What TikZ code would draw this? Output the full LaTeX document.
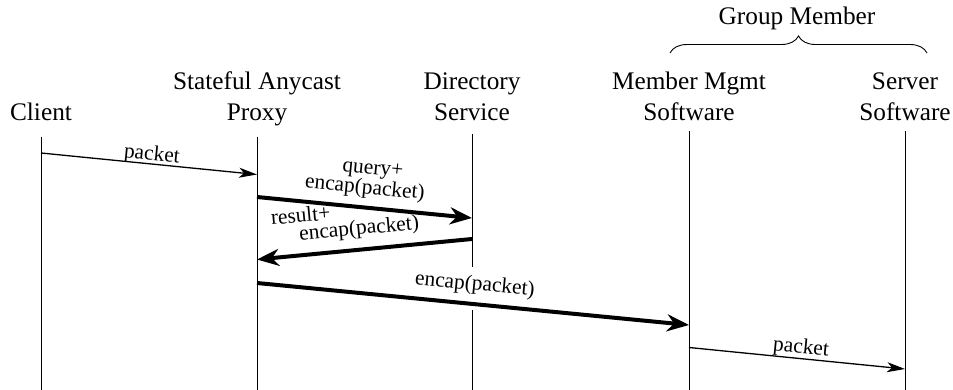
\documentclass[tikz,border=0pt]{standalone}
\usepackage{fontspec}
\setmainfont{Liberation Serif}
\usetikzlibrary{arrows.meta,decorations.pathreplacing}
\begin{document}
\begin{tikzpicture}[x=1pt,y=-1pt,
  hdr/.style={font=\fontsize{25.3}{31.5}\selectfont, align=center, inner sep=0pt, anchor=base},
  lbl/.style={font=\fontsize{21.4}{24}\selectfont, sloped, anchor=base, inner sep=0pt},
  life/.style={line width=0.9pt},
  msg/.style={line width=1.3pt, -{Stealth[length=18pt,width=10pt,inset=5pt]}},
  bigmsg/.style={line width=4pt, -{Stealth[length=22pt,width=17pt,inset=7pt]}},
  bracestyle/.style={line width=0.9pt, decorate, decoration={brace, amplitude=17pt}}]
\useasboundingbox (0,0) rectangle (953,390);

% headers (base = baseline of the last line)
\node[hdr] (client) at (41,121) {Client};
\node[hdr] (proxy) at (257,121) {Stateful Anycast\\Proxy};
\node[hdr] (dir) at (472,121) {Directory\\Service};
\node[hdr] (mgmt) at (689,121) {Member Mgmt\\Software};
\node[hdr] (server) at (905,121) {Server\\Software};
\node[hdr] (grp) at (797,25) {Group Member};

% brace
\coordinate (bl) at (670,53);
\coordinate (br) at (927,53);
\draw[bracestyle] (bl) -- (br);

% lifelines
\coordinate (clientT) at (41,137);   \coordinate (clientB) at (41,390);
\coordinate (proxyT) at (257,137);   \coordinate (proxyB) at (257,390);
\coordinate (dirT) at (472,134);     \coordinate (dirB) at (472,390);
\coordinate (dirG1) at (472,267);    \coordinate (dirG2) at (472,310);
\coordinate (mgmtT) at (689,131);    \coordinate (mgmtB) at (689,390);
\coordinate (serverT) at (905,131);  \coordinate (serverB) at (905,390);
\draw[life] (clientT) -- (clientB);
\draw[life] (proxyT) -- (proxyB);
\draw[life] (dirT) -- (dirG1);
\draw[life] (dirG2) -- (dirB);
\draw[life] (mgmtT) -- (mgmtB);
\draw[life] (serverT) -- (serverB);

% message end points
\coordinate (m1s) at (41,153);   \coordinate (m1e) at (257,174.5);
\coordinate (m2s) at (257,197);  \coordinate (m2e) at (472,218);
\coordinate (m3s) at (472,239);  \coordinate (m3e) at (257,259.5);
\coordinate (m4s) at (257,283);  \coordinate (m4e) at (689,325);
\coordinate (m5s) at (689,347.5);\coordinate (m5e) at (905,369);

\draw[msg] (m1s) -- node[lbl, pos=0.509, yshift=4pt] (l1) {packet} (m1e);
\draw[bigmsg] (m2s) -- node[lbl, pos=0.493, yshift=14pt] (l2b) {encap(packet)}
                        node[lbl, pos=0.521, yshift=34pt] (l2a) {query+} (m2e);
\draw[bigmsg] (m3s) -- node[lbl, pos=0.516, yshift=15pt] (l3b) {encap(packet)}
                        node[lbl, pos=0.78, yshift=33pt] (l3a) {result+} (m3e);
\draw[bigmsg] (m4s) -- node[lbl, pos=0.5, yshift=14pt] (l4) {encap(packet)} (m4e);
\draw[msg] (m5s) -- node[lbl, pos=0.514, yshift=5pt] (l5) {packet} (m5e);
\end{tikzpicture}
\end{document}
